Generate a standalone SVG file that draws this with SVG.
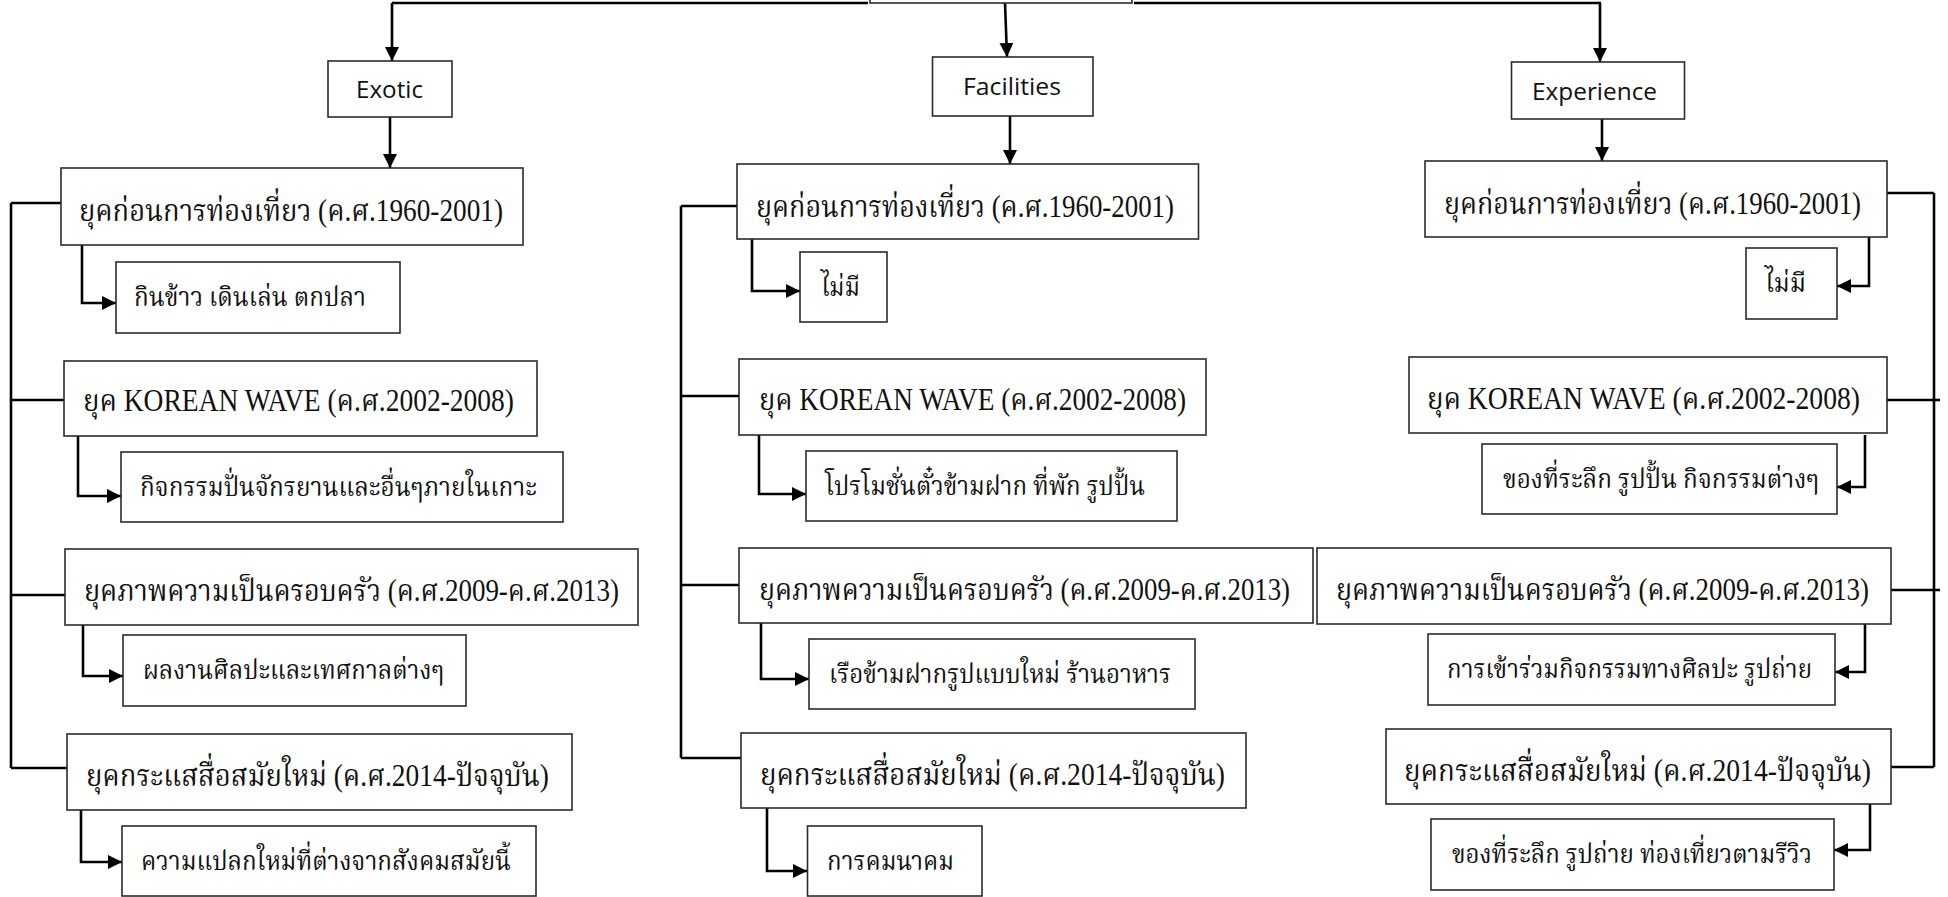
<svg xmlns="http://www.w3.org/2000/svg" width="1948" height="897" viewBox="0 0 1948 897">
<defs>
<marker id="ah" markerUnits="userSpaceOnUse" markerWidth="15" markerHeight="15" refX="14" refY="7" orient="auto">
<path d="M0,0 L14,7 L0,14 z" fill="#000"/>
</marker>
<style>
.bx{fill:#fff;stroke:#2b2b2b;stroke-width:1.6}
.cn{fill:none;stroke:#000;stroke-width:2.6}
.ar{fill:none;stroke:#000;stroke-width:2.6;marker-end:url(#ah)}
.th{font-family:"Liberation Serif","Noto Serif Thai","Noto Sans Thai","Garuda","Loma",serif;font-size:31px;fill:#111}
.ts{font-family:"Liberation Serif","Noto Serif Thai","Noto Sans Thai","Garuda","Loma",serif;font-size:27px;fill:#111}
.en{font-family:"Open Sans","Liberation Sans",sans-serif;font-size:24px;fill:#111}
</style>
</defs>
<rect width="1948" height="897" fill="#fff"/>

<g id="connectors">
<path class="cn" d="M392,3 H868 M1134,3 H1601"/>
<path class="ar" d="M392,3 V61"/>
<path class="ar" d="M1005,3 L1007,57"/>
<path class="ar" d="M1600,3 V62"/>
<path class="ar" d="M390,117 V168"/>
<path class="ar" d="M1010,116 V164"/>
<path class="ar" d="M1602,119 V161"/>
<path class="cn" d="M11,203 V768 M11,203 H61 M11,400 H64 M11,595 H65 M11,768 H67"/>
<path class="ar" d="M82,245 V303 H116"/>
<path class="ar" d="M78,436 V496 H121"/>
<path class="ar" d="M83,625 V676 H123"/>
<path class="ar" d="M81,810 V862 H122"/>
<path class="cn" d="M681,206 V758 M681,206 H737 M681,396 H739 M681,585 H739 M681,758 H741"/>
<path class="ar" d="M752,239 V291 H800"/>
<path class="ar" d="M759,435 V494 H806"/>
<path class="ar" d="M761,623 V679 H809"/>
<path class="ar" d="M767,808 V871 H807"/>
<path class="cn" d="M1934,193 V767 M1887,193 H1934 M1887,400 H1940 M1891,590 H1940 M1891,767 H1934"/>
<path class="ar" d="M1869,237 V286 H1837"/>
<path class="ar" d="M1865,435 V487 H1837"/>
<path class="ar" d="M1865,624 V672 H1835"/>
<path class="ar" d="M1870,804 V850 H1834"/>
</g>

<g id="root"><rect class="bx" x="870" y="-70" width="262" height="73"/></g>

<g id="exotic"><rect class="bx" x="328" y="61" width="124" height="56"/><text class="en" x="356" y="98" textLength="67" lengthAdjust="spacingAndGlyphs">Exotic</text></g>
<g id="facilities"><rect class="bx" x="932.5" y="57" width="160.5" height="59"/><text class="en" x="963" y="95" textLength="98" lengthAdjust="spacingAndGlyphs">Facilities</text></g>
<g id="experience"><rect class="bx" x="1511.5" y="62" width="173" height="57"/><text class="en" x="1532" y="100" textLength="125" lengthAdjust="spacingAndGlyphs">Experience</text></g>

<g id="ex-era1"><rect class="bx" x="61" y="168" width="462" height="77"/><text class="th" x="79" y="221" textLength="424" lengthAdjust="spacingAndGlyphs">ยุคก่อนการท่องเที่ยว (ค.ศ.1960-2001)</text></g>
<g id="ex-sub1"><rect class="bx" x="116" y="262" width="284" height="71"/><text class="ts" x="134" y="306" textLength="232" lengthAdjust="spacingAndGlyphs">กินข้าว เดินเล่น ตกปลา</text></g>
<g id="ex-era2"><rect class="bx" x="64" y="361" width="473" height="75"/><text class="th" x="83" y="411" textLength="431" lengthAdjust="spacingAndGlyphs">ยุค KOREAN WAVE (ค.ศ.2002-2008)</text></g>
<g id="ex-sub2"><rect class="bx" x="121" y="452" width="442" height="70"/><text class="ts" x="140" y="496" textLength="397" lengthAdjust="spacingAndGlyphs">กิจกรรมปั่นจักรยานและอื่นๆภายในเกาะ</text></g>
<g id="ex-era3"><rect class="bx" x="65" y="549" width="573" height="76"/><text class="th" x="84" y="601" textLength="535" lengthAdjust="spacingAndGlyphs">ยุคภาพความเป็นครอบครัว (ค.ศ.2009-ค.ศ.2013)</text></g>
<g id="ex-sub3"><rect class="bx" x="123" y="635" width="343" height="71"/><text class="ts" x="143" y="679" textLength="301" lengthAdjust="spacingAndGlyphs">ผลงานศิลปะและเทศกาลต่างๆ</text></g>
<g id="ex-era4"><rect class="bx" x="67" y="734" width="505" height="76"/><text class="th" x="86" y="786" textLength="463" lengthAdjust="spacingAndGlyphs">ยุคกระแสสื่อสมัยใหม่ (ค.ศ.2014-ปัจจุบัน)</text></g>
<g id="ex-sub4"><rect class="bx" x="122" y="826" width="414" height="70"/><text class="ts" x="141" y="870" textLength="370" lengthAdjust="spacingAndGlyphs">ความแปลกใหม่ที่ต่างจากสังคมสมัยนี้</text></g>

<g id="fa-era1"><rect class="bx" x="737" y="164" width="461.5" height="75"/><text class="th" x="756" y="217" textLength="418" lengthAdjust="spacingAndGlyphs">ยุคก่อนการท่องเที่ยว (ค.ศ.1960-2001)</text></g>
<g id="fa-sub1"><rect class="bx" x="800" y="252" width="87" height="70"/><text class="ts" x="821" y="296" textLength="39" lengthAdjust="spacingAndGlyphs">ไม่มี</text></g>
<g id="fa-era2"><rect class="bx" x="739" y="359" width="467" height="76"/><text class="th" x="759" y="410" textLength="427" lengthAdjust="spacingAndGlyphs">ยุค KOREAN WAVE (ค.ศ.2002-2008)</text></g>
<g id="fa-sub2"><rect class="bx" x="806" y="451" width="371" height="70"/><text class="ts" x="825" y="495" textLength="320" lengthAdjust="spacingAndGlyphs">โปรโมชั่นตั๋วข้ามฝาก ที่พัก รูปปั้น</text></g>
<g id="fa-era3"><rect class="bx" x="739" y="548" width="574" height="75"/><text class="th" x="759" y="600" textLength="531" lengthAdjust="spacingAndGlyphs">ยุคภาพความเป็นครอบครัว (ค.ศ.2009-ค.ศ.2013)</text></g>
<g id="fa-sub3"><rect class="bx" x="809" y="639" width="386" height="70"/><text class="ts" x="829" y="683" textLength="342" lengthAdjust="spacingAndGlyphs">เรือข้ามฝากรูปแบบใหม่ ร้านอาหาร</text></g>
<g id="fa-era4"><rect class="bx" x="741" y="733" width="505" height="75"/><text class="th" x="760" y="785" textLength="465" lengthAdjust="spacingAndGlyphs">ยุคกระแสสื่อสมัยใหม่ (ค.ศ.2014-ปัจจุบัน)</text></g>
<g id="fa-sub4"><rect class="bx" x="807.5" y="826" width="174.5" height="70"/><text class="ts" x="827" y="870" textLength="127" lengthAdjust="spacingAndGlyphs">การคมนาคม</text></g>

<g id="xp-era1"><rect class="bx" x="1425" y="161" width="462" height="76"/><text class="th" x="1444" y="214" textLength="417" lengthAdjust="spacingAndGlyphs">ยุคก่อนการท่องเที่ยว (ค.ศ.1960-2001)</text></g>
<g id="xp-sub1"><rect class="bx" x="1746" y="248" width="91" height="71"/><text class="ts" x="1765" y="292" textLength="41" lengthAdjust="spacingAndGlyphs">ไม่มี</text></g>
<g id="xp-era2"><rect class="bx" x="1409" y="357" width="478" height="76"/><text class="th" x="1427" y="409" textLength="433" lengthAdjust="spacingAndGlyphs">ยุค KOREAN WAVE (ค.ศ.2002-2008)</text></g>
<g id="xp-sub2"><rect class="bx" x="1482" y="444" width="355" height="70"/><text class="ts" x="1503" y="488" textLength="316" lengthAdjust="spacingAndGlyphs">ของที่ระลึก รูปปั้น กิจกรรมต่างๆ</text></g>
<g id="xp-era3"><rect class="bx" x="1317" y="548" width="574" height="76"/><text class="th" x="1336" y="600" textLength="533" lengthAdjust="spacingAndGlyphs">ยุคภาพความเป็นครอบครัว (ค.ศ.2009-ค.ศ.2013)</text></g>
<g id="xp-sub3"><rect class="bx" x="1428" y="634" width="407" height="71"/><text class="ts" x="1447" y="678" textLength="365" lengthAdjust="spacingAndGlyphs">การเข้าร่วมกิจกรรมทางศิลปะ รูปถ่าย</text></g>
<g id="xp-era4"><rect class="bx" x="1386" y="729" width="505" height="75"/><text class="th" x="1404" y="781" textLength="467" lengthAdjust="spacingAndGlyphs">ยุคกระแสสื่อสมัยใหม่ (ค.ศ.2014-ปัจจุบัน)</text></g>
<g id="xp-sub4"><rect class="bx" x="1431" y="819" width="403" height="71"/><text class="ts" x="1452" y="863" textLength="360" lengthAdjust="spacingAndGlyphs">ของที่ระลึก รูปถ่าย ท่องเที่ยวตามรีวิว</text></g>
</svg>
